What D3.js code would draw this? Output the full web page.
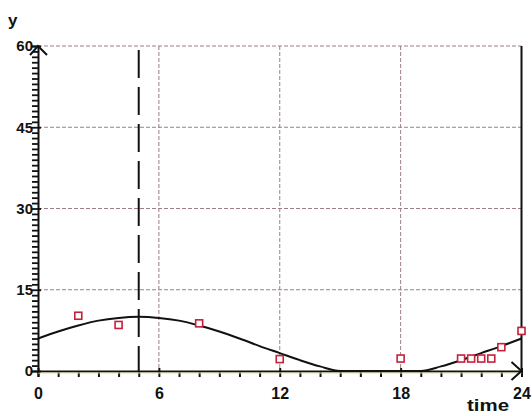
<!DOCTYPE html>
<html>
<head>
<meta charset="utf-8">
<script src="https://cdn.jsdelivr.net/npm/d3@7"></script>
<style>
  body { margin: 0; background: #fff; }
  svg text { font-family: "Liberation Sans", Arial, sans-serif; font-weight: bold; fill: #111; }
</style>
</head>
<body>
<svg id="chart"></svg>
<script>
// model curve (hourly)
const curveTimes = [0, 1, 2, 3, 4, 5, 6, 7, 8, 9, 10, 11, 12, 13, 14, 15, 16, 17, 18, 19, 20, 21, 22, 23, 24];
const curveValues = [6.0, 7.3, 8.4, 9.3, 9.8, 10.0, 9.8, 9.3, 8.4, 7.3, 6.0, 4.6, 3.3, 2.0, 0.85, 0, 0, 0, 0, 0, 0.85, 2.0, 3.3, 4.6, 6.0];

// observed points
const obsTimes = [2, 4, 8, 12, 18, 21, 21.5, 22, 22.5, 23, 24];
const obsValues = [10.2, 8.5, 8.8, 2.2, 2.3, 2.3, 2.3, 2.3, 2.3, 4.4, 7.4];

const markerTime = 5;
const xTicks = [0, 6, 12, 18, 24];
const yTicks = [0, 15, 30, 45, 60];
const xLabel = 'time';
const yLabel = 'y';

const width = 532, height = 416;
const svg = d3.select('#chart').attr('width', width).attr('height', height);

const x = d3.scaleLinear().domain([0, 24]).range([38, 521.5]);
const y = d3.scaleLinear().domain([0, 60]).range([371, 46]);

const gridColor = '#9b7f84';

// grid
svg.append('g').selectAll('line')
  .data(xTicks.filter((d) => d > 0 && d < 24))
  .join('line')
  .attr('x1', (d) => x(d)).attr('x2', (d) => x(d))
  .attr('y1', y(60)).attr('y2', y(0))
  .attr('stroke', gridColor).attr('stroke-width', 1)
  .attr('stroke-dasharray', '4,2');

svg.append('g').selectAll('line')
  .data(yTicks.filter((d) => d > 0))
  .join('line')
  .attr('x1', x(0)).attr('x2', x(24))
  .attr('y1', (d) => y(d)).attr('y2', (d) => y(d))
  .attr('stroke', gridColor).attr('stroke-width', 1)
  .attr('stroke-dasharray', '4,2');

// right border
svg.append('line')
  .attr('x1', x(24)).attr('x2', x(24))
  .attr('y1', y(60)).attr('y2', y(0))
  .attr('stroke', '#111').attr('stroke-width', 2);

// vertical marker
svg.append('line')
  .attr('x1', x(markerTime)).attr('x2', x(markerTime))
  .attr('y1', y(60) + 4).attr('y2', y(0))
  .attr('stroke', '#111').attr('stroke-width', 2)
  .attr('stroke-dasharray', '28,9');

// x axis
const xAxis = d3.axisBottom(x)
  .tickValues(d3.range(0, 25, 1))
  .tickSize(6)
  .tickFormat((d) => (xTicks.includes(d) ? d : ''));
const gx = svg.append('g')
  .attr('transform', `translate(0,${y(0)})`)
  .call(xAxis);
gx.select('.domain').attr('stroke', '#111').attr('stroke-width', 2);
gx.selectAll('.tick line').attr('stroke', '#111').attr('stroke-width', 2)
  .attr('y1', (d) => (xTicks.includes(d) ? -3 : 0));
gx.selectAll('.tick text').attr('font-size', 16).attr('dy', '1.2em')
  .style('font-family', '"Liberation Sans", Arial, sans-serif').style('font-weight', 'bold');

svg.append('line')
  .attr('x1', x(0)).attr('x2', x(24))
  .attr('y1', y(0) + 2).attr('y2', y(0) + 2)
  .attr('stroke', '#e9dca0').attr('stroke-width', 1);

// y axis
const yAxis = d3.axisLeft(y)
  .tickValues(d3.range(0, 61, 1))
  .tickSize(6)
  .tickFormat((d) => (yTicks.includes(d) ? d : ''));
const gy = svg.append('g')
  .attr('transform', `translate(${x(0)},0)`)
  .call(yAxis);
gy.select('.domain').attr('stroke', '#111').attr('stroke-width', 2);
gy.selectAll('.tick line').attr('stroke', '#111').attr('stroke-width', 1.8)
  .attr('x2', (d) => (yTicks.includes(d) ? -7 : -6))
  .attr('x1', (d) => (yTicks.includes(d) ? 3 : 0));
gy.selectAll('.tick text').attr('font-size', 15).attr('x', -5)
  .style('font-family', '"Liberation Sans", Arial, sans-serif').style('font-weight', 'bold');

// arrowheads
svg.append('path')
  .attr('d', `M${x(0) - 8},${y(60) + 9}L${x(0)},${y(60)}L${x(0) + 9},${y(60) + 9}`)
  .attr('fill', 'none').attr('stroke', '#111').attr('stroke-width', 2);
svg.append('path')
  .attr('d', `M${x(24) - 10},${y(0) - 9}L${x(24)},${y(0)}L${x(24) - 10},${y(0) + 9}`)
  .attr('fill', 'none').attr('stroke', '#111').attr('stroke-width', 2);

// model curve
const curveData = curveTimes.map((t, i) => ({ t, v: curveValues[i] }));
const line = d3.line()
  .x((d) => x(d.t))
  .y((d) => y(d.v))
  .curve(d3.curveMonotoneX);
svg.append('path')
  .datum(curveData)
  .attr('d', line)
  .attr('fill', 'none')
  .attr('stroke', '#111')
  .attr('stroke-width', 2);

// observations
const obsData = obsTimes.map((t, i) => ({ t, v: obsValues[i] }));
const sz = 7;
svg.append('g').selectAll('rect')
  .data(obsData)
  .join('rect')
  .attr('x', (d) => x(d.t) - sz / 2)
  .attr('y', (d) => y(d.v) - sz / 2)
  .attr('width', sz)
  .attr('height', sz)
  .attr('fill', '#fff')
  .attr('stroke', '#c4203c')
  .attr('stroke-width', 1.6);

// axis titles
svg.append('text')
  .attr('x', 8).attr('y', 26)
  .attr('font-size', 17)
  .text(yLabel);
svg.append('text')
  .attr('x', 467).attr('y', 411)
  .attr('font-size', 16)
  .attr('textLength', 42)
  .attr('lengthAdjust', 'spacingAndGlyphs')
  .text(xLabel);
</script>
</body>
</html>
